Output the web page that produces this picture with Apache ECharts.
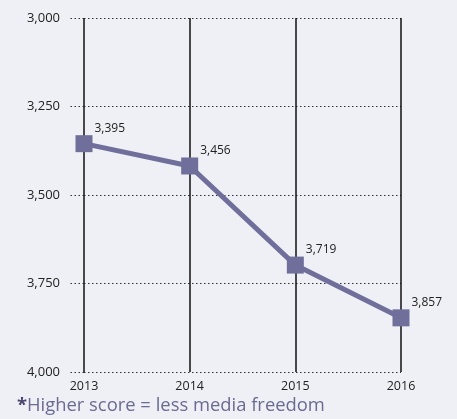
<!DOCTYPE html>
<html>
<head>
<meta charset="utf-8">
<script src="https://cdn.jsdelivr.net/npm/echarts@6/dist/echarts.min.js"></script>
<style>
  html, body { margin: 0; padding: 0; background: #eff0f6; }
  #chart { width: 457px; height: 419px; }
</style>
</head>
<body>
<div id="chart"></div>
<script>
const years = ["2013", "2014", "2015", "2016"];
// printed score labels
const scoreLabels = [3395, 3456, 3719, 3857];
// where the markers actually sit on the (inverted) axis in the picture
const plotted = [3355, 3418, 3698, 3847];
const yTicks = [3000, 3250, 3500, 3750, 4000];

const fmt = (v) => v.toLocaleString("en-US");
const lineColor = "#706f9b";

const chart = echarts.init(document.getElementById("chart"));
chart.setOption({
  backgroundColor: "#eff0f6",
  animation: false,
  textStyle: { fontFamily: "Open Sans" },
  grid: { left: 84, right: 56, top: 18, bottom: 47 },
  title: {
    text: "{s|*}Higher score = less media freedom",
    left: 12,
    top: 392,
    textStyle: {
      fontFamily: "Open Sans",
      fontSize: 18.4,
      fontWeight: "normal",
      color: "#6b6a90",
      rich: { s: { fontSize: 18.4, fontWeight: "bold", color: "#46456e" } }
    }
  },
  xAxis: {
    type: "category",
    data: years,
    boundaryGap: false,
    axisLine: { show: false },
    axisTick: { show: false },
    axisLabel: { color: "#222", fontSize: 12.5, margin: 8 },
    splitLine: { show: true, lineStyle: { color: "#111", width: 1.5, type: "solid" } }
  },
  yAxis: {
    type: "value",
    inverse: true,
    min: yTicks[0],
    max: yTicks[yTicks.length - 1],
    interval: 250,
    axisLine: { show: false },
    axisTick: { show: true, inside: false, length: 16, lineStyle: { color: "#333", width: 1.2, type: [1.5, 2.5] } },
    axisLabel: { color: "#222", fontSize: 13, margin: 24, formatter: fmt },
    splitLine: { show: true, lineStyle: { color: "#333", width: 1.2, type: [1.5, 2.5] } }
  },
  series: [{
    type: "line",
    data: plotted,
    symbol: "rect",
    symbolSize: 17,
    itemStyle: { color: lineColor },
    lineStyle: { color: lineColor, width: 5 },
    label: {
      show: true,
      position: [19, -13],
      color: "#222",
      fontSize: 12,
      formatter: (p) => fmt(scoreLabels[p.dataIndex])
    }
  }]
});
</script>
</body>
</html>
